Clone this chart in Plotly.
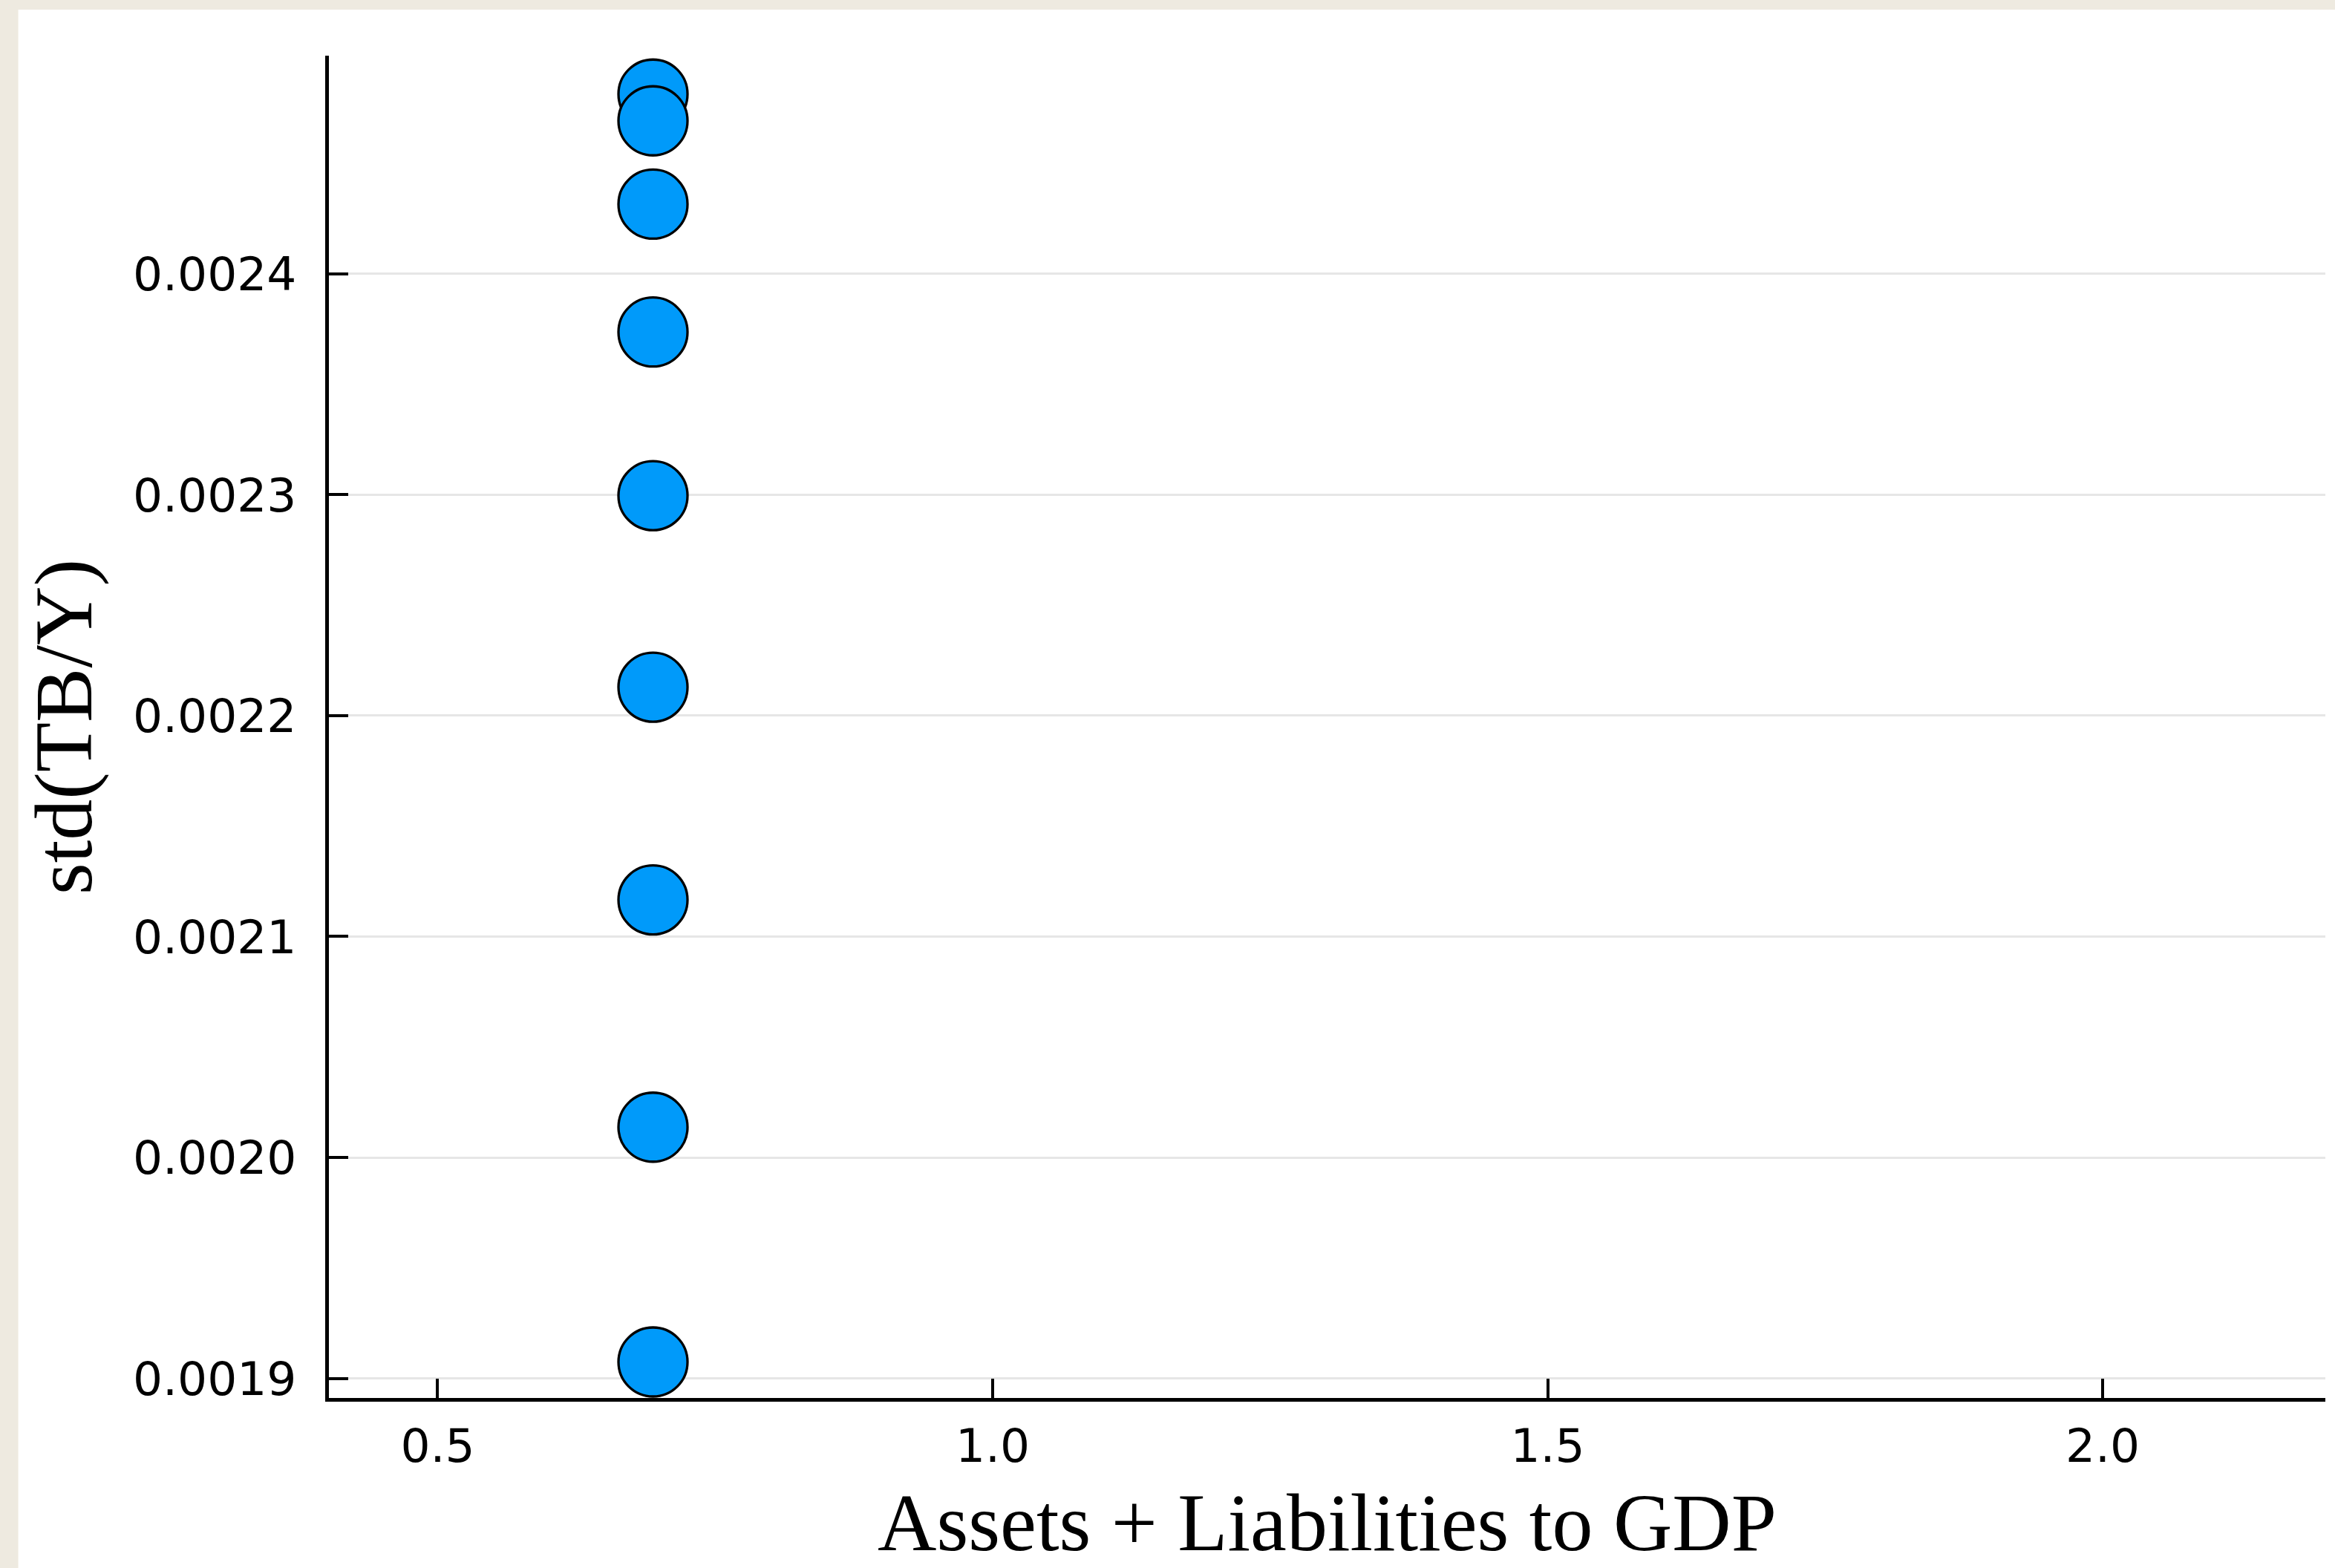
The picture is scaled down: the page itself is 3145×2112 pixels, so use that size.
import plotly.graph_objects as go

# Assets + liabilities to GDP ratio and the std of the trade balance / output
ratio = [0.694, 0.694, 0.694, 0.694, 0.694, 0.694, 0.694, 0.694, 0.694]
std_tb_y = [0.0024814, 0.0024693, 0.0024316, 0.0023737, 0.0022996,
            0.0022129, 0.0021166, 0.0020137, 0.0019074]

x_ticks = [0.5, 1.0, 1.5, 2.0]
x_tick_labels = ["0.5", "1.0", "1.5", "2.0"]
y_ticks = [0.0019, 0.0020, 0.0021, 0.0022, 0.0023, 0.0024]
y_tick_labels = ["0.0019", "0.0020", "0.0021", "0.0022", "0.0023", "0.0024"]

W, H = 3145, 2112
ML, MR, MT, MB = 442.5, 13, 75, 228.5
PW, PH = W - ML - MR, H - MT - MB

BLUE = "rgb(0,154,250)"
FRAME = "rgb(238,234,224)"
GRID = "rgb(230,230,230)"
TICK_FONT = dict(family="DejaVu Sans", size=63, color="black")
TITLE_FONT = dict(family="Liberation Serif", size=110, color="black")

fig = go.Figure(
    go.Scatter(
        x=ratio,
        y=std_tb_y,
        mode="markers",
        marker=dict(size=93, color=BLUE, line=dict(color="black", width=3.3)),
        showlegend=False,
    )
)


def px_to_paper_x(px):
    return (px - ML) / PW


def px_to_paper_y(py):
    return (H - MB - py) / PH


# white canvas leaving a thin frame strip along the top and left edges
fig.add_shape(
    type="rect", xref="paper", yref="paper",
    x0=px_to_paper_x(24), x1=px_to_paper_x(W + 5),
    y0=px_to_paper_y(H + 5), y1=px_to_paper_y(13),
    fillcolor="white", line=dict(width=0), layer="below",
)

fig.update_layout(
    width=W,
    height=H,
    margin=dict(l=ML, r=MR, t=MT, b=MB),
    paper_bgcolor=FRAME,
    plot_bgcolor="white",
    xaxis=dict(
        range=[0.40203, 2.20063],
        tickmode="array",
        tickvals=x_ticks,
        ticktext=x_tick_labels,
        tickfont=TICK_FONT,
        ticks="inside",
        ticklen=26,
        tickwidth=4,
        tickcolor="black",
        showgrid=False,
        zeroline=False,
        showline=True,
        linecolor="black",
        linewidth=5,
        ticklabelstandoff=5,
        automargin=False,
        title=dict(text="Assets + Liabilities to GDP", font=TITLE_FONT, standoff=47),
    ),
    yaxis=dict(
        range=[0.0018911, 0.0024988],
        tickmode="array",
        tickvals=y_ticks,
        ticktext=y_tick_labels,
        tickfont=TICK_FONT,
        ticks="inside",
        ticklen=26,
        tickwidth=4,
        tickcolor="black",
        showgrid=True,
        gridcolor=GRID,
        gridwidth=2.5,
        zeroline=False,
        showline=True,
        linecolor="black",
        linewidth=5,
        ticklabelstandoff=26,
        automargin=False,
        title=dict(text="std(TB/Y)", font=TITLE_FONT, standoff=20),
    ),
)

fig.write_html("out.html")
